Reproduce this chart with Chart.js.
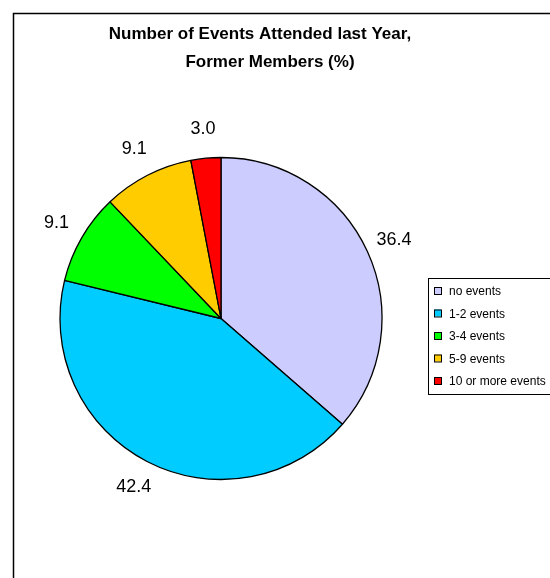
<!DOCTYPE html>
<html>
<head>
<meta charset="utf-8">
<title>Events Attended</title>
<script src="https://cdn.jsdelivr.net/npm/chart.js@4/dist/chart.umd.min.js"></script>
<style>
  body { margin:0; background:#fff; }
  #wrap { position:relative; width:550px; height:578px; }
</style>
</head>
<body>
<div id="wrap"><canvas id="piechart" width="550" height="578"></canvas></div>
<script>

// Data

var categories = ["no events", "1-2 events", "3-4 events", "5-9 events", "10 or more events"];
var percents = [36.4, 42.4, 9.1, 9.1, 3.0];
var sliceColors = ["#CCCCFF", "#00CCFF", "#00FF00", "#FFCC00", "#FF0000"];
var titleLines = ["Number of Events Attended last Year,", "Former Members (%)"];

// Frame, title, value labels and legend box

var extras = {
  id: "extras",
  beforeDraw: function (chart) {
    var c = chart.ctx;
    c.save();
    c.fillStyle = "#fff";
    c.fillRect(0, 0, chart.width, chart.height);
    c.strokeStyle = "#000";
    c.lineWidth = 1.5;
    c.beginPath();
    c.moveTo(13.5, chart.height);
    c.lineTo(13.5, 13.5);
    c.lineTo(chart.width, 13.5);
    c.stroke();
    c.restore();
  },
  afterDraw: function (chart) {
    var c = chart.ctx;
    c.save();

    // title
    c.fillStyle = "#000";
    c.font = "bold 17px 'Liberation Sans', Arial, sans-serif";
    c.textAlign = "center";
    c.textBaseline = "alphabetic";
    c.fillText(titleLines[0], 260, 39);
    c.fillText(titleLines[1], 270, 67);

    // value labels outside the slices
    c.font = "18px 'Liberation Sans', Arial, sans-serif";
    c.textBaseline = "middle";
    var arcs = chart.getDatasetMeta(0).data;
    arcs.forEach(function (arc, i) {
      var p = arc.getProps(["x", "y", "startAngle", "endAngle", "outerRadius"], true);
      var mid = (p.startAngle + p.endAngle) / 2;
      var d = p.outerRadius + 29;
      c.fillText(percents[i].toFixed(1), p.x + Math.cos(mid) * d, p.y + Math.sin(mid) * d);
    });

    // legend
    c.strokeStyle = "#000";
    c.lineWidth = 1;
    c.strokeRect(428.5, 278.5, 200, 116);
    c.font = "12px 'Liberation Sans', Arial, sans-serif";
    c.textAlign = "left";
    categories.forEach(function (name, i) {
      var y = 291 + i * 22.5;
      c.fillStyle = sliceColors[i];
      c.fillRect(434, y - 4, 7, 7);
      c.strokeRect(434.5, y - 3.5, 7, 7);
      c.fillStyle = "#000";
      c.fillText(name, 449, y + 1);
    });

    c.restore();
  }
};

// Pie Chart

new Chart(document.getElementById("piechart"), {
  type: "pie",
  data: {
    labels: categories,
    datasets: [{
      data: percents,
      backgroundColor: sliceColors,
      borderColor: "#000",
      borderWidth: 1.3,
      hoverOffset: 0,
      radius: 161
    }]
  },
  options: {
    responsive: false,
    animation: false,
    layout: {
      padding: { left: 0, right: 108, top: 59, bottom: 0 }
    },
    plugins: {
      legend: { display: false },
      title: { display: false },
      tooltip: { enabled: false }
    }
  },
  plugins: [extras]
});
</script>
</body>
</html>
